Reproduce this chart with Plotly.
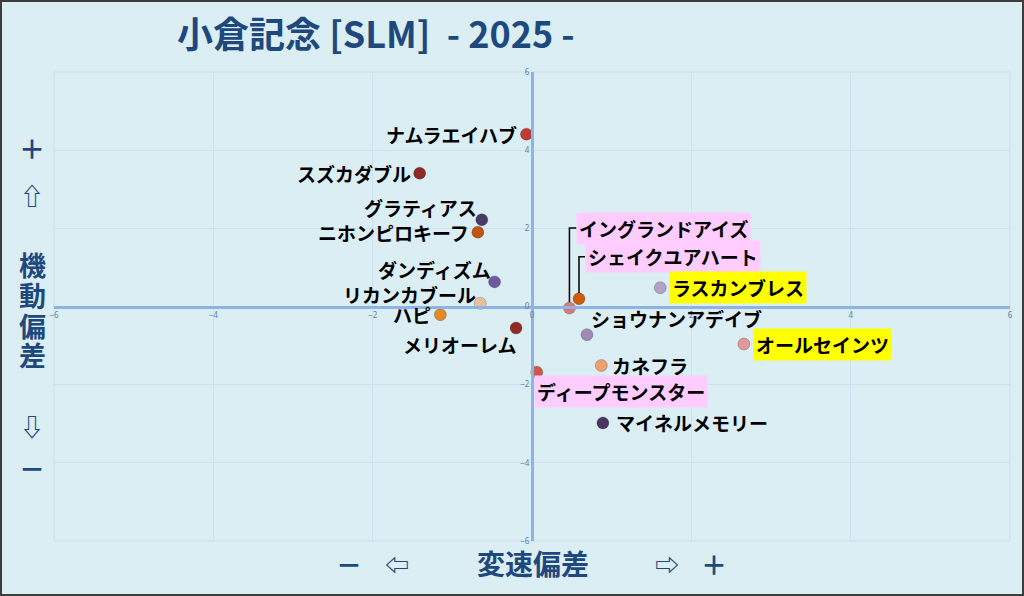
import plotly.graph_objects as go

# 小倉記念 2025 - 変速偏差 (x) / 機動偏差 (y)
horse_names = ['ナムラエイハブ', 'スズカダブル', 'グラティアス', 'ニホンピロキーフ', 'ダンディズム',
               'リカンカブール', 'ハピ', 'メリオーレム', 'イングランドアイズ', 'シェイクユアハート',
               'ラスカンブレス', 'ショウナンアデイブ', 'オールセインツ', 'カネフラ',
               'ディープモンスター', 'マイネルメモリー']
speed_dev = [-0.07, -1.41, -0.63, -0.68, -0.47, -0.65, -1.15, -0.20, 0.47, 0.59,
             1.61, 0.69, 2.66, 0.87, 0.06, 0.89]
agility_dev = [4.41, 3.41, 2.22, 1.90, 0.63, 0.08, -0.21, -0.55, -0.04, 0.20,
               0.48, -0.72, -0.96, -1.51, -1.68, -2.98]
dot_colors = ['#C23B33', '#8E2A26', '#4A3A66', '#C0550F', '#6E5AA0', '#E8C0A0', '#E8862A', '#922B26',
              '#D47A78', '#D05A0A', '#B3A2C6', '#A08AB8', '#E09898', '#EEA070', '#CC5A4A', '#4A3560']
tick_vals = [-6, -4, -2, 0, 2, 4, 6]

# label placement: (xanchor, xshift px, yshift px, background)
pink = '#FFCCFF'
yellow = '#FFFF00'
label_pos = [('right', -8, 0, None), ('right', -8, 0, None), ('right', -4, 12, None),
             ('right', -8, 0, None), ('right', -3, 12, None), ('right', -3, 9, None),
             ('right', -8, 0, None), ('right', 2, -16, None), ('left', 7, 80, pink),
             ('left', 6, 42, pink), ('left', 9, 0, yellow), ('left', 3, 16, None),
             ('left', 9, 0, yellow), ('left', 10, 0, None), ('left', -3, -19, pink),
             ('left', 12, 0, None)]

navy = '#1F497D'
bg = '#DAEEF3'
W, H = 1024, 596
ml, mr, mt, mb = 54, 14, 72, 55
pw, ph = W - ml - mr, H - mt - mb
ux, uy = pw / 12, ph / 12  # px per data unit

fig = go.Figure()

# leader lines for the two crowded labels
for i in (8, 9):
    x0, y0 = speed_dev[i], agility_dev[i]
    ylab = y0 + label_pos[i][2] / uy
    xend = x0 + label_pos[i][1] / ux
    fig.add_trace(go.Scatter(x=[x0, x0, xend], y=[y0, ylab, ylab], mode='lines',
                             line=dict(color='black', width=1.5), hoverinfo='skip', showlegend=False))

fig.add_trace(go.Scatter(x=speed_dev, y=agility_dev, mode='markers', text=horse_names,
                         marker=dict(size=12, color=dot_colors, line=dict(color='rgba(0,0,0,0.25)', width=0.8)),
                         hovertemplate='%{text}<br>%{x:.2f}, %{y:.2f}<extra></extra>', showlegend=False))

for name, x, y, (anc, xs, ys, bgc) in zip(horse_names, speed_dev, agility_dev, label_pos):
    fig.add_annotation(x=x, y=y, text=name, showarrow=False, xanchor=anc, yanchor='middle',
                       xshift=xs, yshift=ys, bgcolor=bgc, borderpad=2 if bgc else 0,
                       font=dict(family='Noto Sans CJK JP', size=19, color='black', weight='bold'))

# side and bottom captions
side = [('＋', 147, 26), ('⇧', 195, 24), ('機', 264, 27), ('動', 294, 27), ('偏', 325, 27),
        ('差', 354, 27), ('⇩', 425, 24), ('－', 467, 26)]
for t, py, sz in side:
    fig.add_annotation(xref='paper', yref='paper', x=(32 - ml) / pw, y=(H - mb - py) / ph, text=t,
                       showarrow=False, xanchor='center', yanchor='middle',
                       font=dict(family='Noto Sans CJK JP', size=sz, color=navy, weight='bold'))
bottom = [('－', 349, 26), ('⇦', 397, 24), ('変速偏差', 533, 28), ('⇨', 667, 24), ('＋', 714, 26)]
for t, px, sz in bottom:
    fig.add_annotation(xref='paper', yref='paper', x=(px - ml) / pw, y=(H - mb - 563) / ph, text=t,
                       showarrow=False, xanchor='center', yanchor='middle',
                       font=dict(family='Noto Sans CJK JP', size=sz, color=navy, weight='bold'))

# plot frame and outer border
fig.add_shape(type='rect', xref='paper', yref='paper', x0=0, x1=1, y0=0, y1=1,
              line=dict(color='#C9E0EC', width=1), layer='below')
fig.add_shape(type='rect', xref='paper', yref='paper',
              x0=(1 - ml) / pw, x1=1 + (mr - 1) / pw, y0=(1 - mb) / ph, y1=1 + (mt - 1) / ph,
              line=dict(color='#3C3C3C', width=2))

axis_common = dict(range=[-6, 6], tickvals=tick_vals, showgrid=True, gridcolor='#CCE2EE', gridwidth=1,
                   zeroline=False, showline=True, linecolor='#8DB4E2', linewidth=3,
                   anchor='free', position=0.5, ticks='',
                   tickfont=dict(family='Noto Sans', size=8, color='#5F7FA8'))
fig.update_xaxes(**axis_common)
fig.update_yaxes(**axis_common)

fig.update_layout(
    width=W, height=H,
    margin=dict(l=ml, r=mr, t=mt, b=mb),
    paper_bgcolor=bg, plot_bgcolor=bg,
    title=dict(text='小倉記念 [SLM]  - 2025 -', x=177 / W, xanchor='left', xref='container',
               y=1 - 35 / H, yanchor='middle', yref='container',
               font=dict(family='Noto Sans CJK JP', size=36, color=navy, weight='bold')),
    hovermode='closest',
)

# drop the default body margin so the figure sits at the window's top-left corner
fig.write_html('out.html', config={'displayModeBar': False},
               post_script="document.body.style.margin='0';")
